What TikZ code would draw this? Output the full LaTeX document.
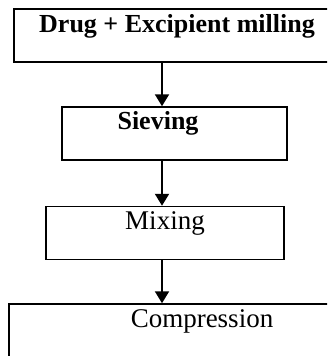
\documentclass[tikz,border=0pt]{standalone}
\usepackage{fontspec}
\setmainfont{Liberation Serif}
\usetikzlibrary{arrows.meta, positioning}
\tikzset{
    stagebox/.style={draw, line width=1.5pt, rectangle, inner sep=0pt},
    stagetext/.style={anchor=base, inner sep=0pt, font=\fontsize{27}{30}\selectfont},
    boldtext/.style={stagetext, font=\fontsize{26}{29}\selectfont\bfseries},
    flow/.style={line width=2pt, -{Triangle[width=14pt, length=12pt]}}
}

\begin{document}
\begin{tikzpicture}[x=1pt, y=-1pt]
    \clip (0,0) rectangle (327,356);
    \useasboundingbox (0,0) rectangle (327,356);

    \node[stagebox, minimum width=336pt, minimum height=53pt] (mill) at (182,35.5) {};
    \node[stagebox, minimum width=225pt, minimum height=53pt] (sieve) at (174.5,133.5) {};
    \node[stagebox, minimum width=238pt, minimum height=53pt] (mix) at (165,233) {};
    \node[stagebox, minimum width=360pt, minimum height=100pt] (comp) at (189,354) {};

    \node[boldtext] (milltxt) at (177,32) {Drug + Excipient milling};
    \node[boldtext] (sievetxt) at (158,129) {Sieving};
    \node[stagetext] (mixtxt) at (165,229) {Mixing};
    \node[stagetext] (comptxt) at (202,327) {Compression};

    \coordinate (axis) at (162,0);
    \draw[flow] (mill.south -| axis) -- (sieve.north -| axis);
    \draw[flow] (sieve.south -| axis) -- (mix.north -| axis);
    \draw[flow] (mix.south -| axis) -- (comp.north -| axis);
\end{tikzpicture}
\end{document}
